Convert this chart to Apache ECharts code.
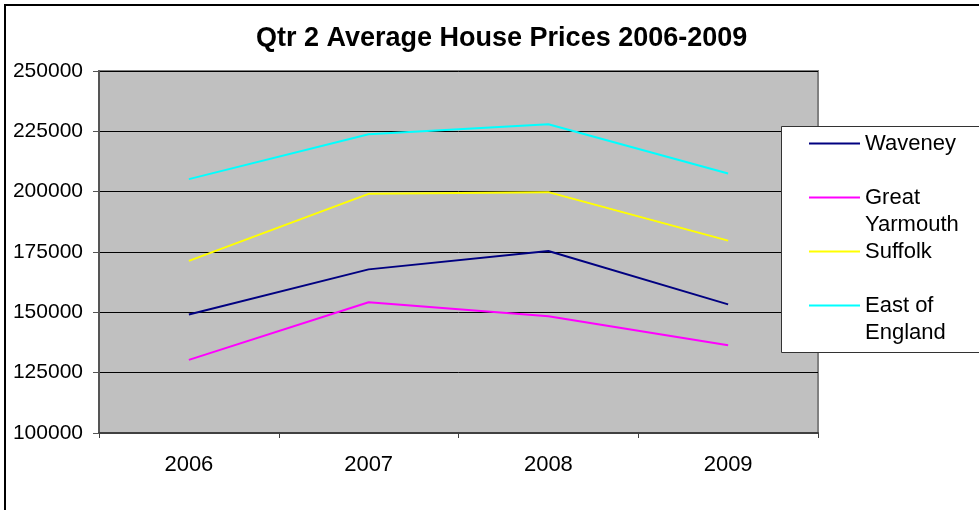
<!DOCTYPE html>
<html>
<head>
<meta charset="utf-8">
<script src="https://cdn.jsdelivr.net/npm/echarts@6/dist/echarts.min.js"></script>
<style>
  html, body { margin: 0; padding: 0; background: #fff; }
  #chart { width: 979px; height: 510px; }
</style>
</head>
<body>
<div id="chart"></div>
<script>
// data
const years = ['2006', '2007', '2008', '2009']
const waveney = [149100, 167800, 175400, 153300]
const greatYarmouth = [130300, 154200, 148400, 136400]
const suffolk = [171300, 199100, 199800, 179700]
const eastOfEngland = [205200, 223800, 227900, 207500]
const yTicks = [100000, 125000, 150000, 175000, 200000, 225000, 250000]

const seriesNames = ['Waveney', 'Great Yarmouth', 'Suffolk', 'East of England']
// legend labels wrap like the original; a leading blank line keeps the swatch on the first line
const legendLabels = {
  'Waveney': '\nWaveney\n',
  'Great Yarmouth': '\nGreat\nYarmouth',
  'Suffolk': '\nSuffolk\n',
  'East of England': '\nEast of\nEngland'
}
const colors = ['#000080', '#ff00ff', '#ffff00', '#00ffff']

const font = 'Liberation Sans, Arial, sans-serif'
const chart = echarts.init(document.getElementById('chart'))

const makeLine = (name, data, color) => ({
  name: name,
  type: 'line',
  data: data,
  symbol: 'none',
  color: color,
  lineStyle: { color: color, width: 2 },
  emphasis: { disabled: true },
  z: 3
})

chart.setOption({
  animation: false,
  textStyle: { fontFamily: font },
  title: {
    text: 'Qtr 2 Average House Prices 2006-2009',
    left: 256,
    top: 25,
    padding: 0,
    textStyle: { fontSize: 27, fontWeight: 'bold', color: '#000', fontFamily: font }
  },
  graphic: [
    {
      type: 'rect',
      shape: { x: 5, y: 5, width: 1000, height: 600 },
      style: { fill: 'none', stroke: '#000', lineWidth: 2 },
      silent: true,
      z: 0
    },
    {
      type: 'rect',
      shape: { x: 781.5, y: 126.5, width: 220, height: 226 },
      style: { fill: '#fff', stroke: '#333', lineWidth: 1 },
      silent: true,
      z: 10
    }
  ],
  legend: {
    data: seriesNames,
    orient: 'vertical',
    left: 809,
    top: 103,
    padding: 0,
    itemGap: -27,
    icon: 'rect',
    itemWidth: 51,
    itemHeight: 2,
    z: 11,
    selectedMode: false,
    formatter: name => legendLabels[name],
    textStyle: { fontSize: 22, lineHeight: 27, color: '#000', fontFamily: font }
  },
  grid: {
    left: 99,
    right: 161,
    top: 71,
    bottom: 77,
    show: true,
    backgroundColor: '#c0c0c0',
    borderColor: '#808080',
    borderWidth: 2
  },
  xAxis: {
    type: 'category',
    data: years,
    boundaryGap: true,
    axisLine: { show: true, lineStyle: { color: '#404040', width: 2 } },
    axisTick: { show: true, length: 5, lineStyle: { color: '#404040' } },
    axisLabel: { fontSize: 22, color: '#000', margin: 21, fontFamily: font },
    splitLine: { show: false }
  },
  yAxis: {
    type: 'value',
    min: yTicks[0],
    max: yTicks[yTicks.length - 1],
    interval: yTicks[1] - yTicks[0],
    axisLine: { show: true, lineStyle: { color: '#555', width: 2 } },
    axisTick: { show: true, length: 6, lineStyle: { color: '#555' } },
    axisLabel: { fontSize: 21, color: '#000', margin: 16, fontFamily: font, formatter: v => String(v) },
    splitLine: { show: true, lineStyle: { color: '#000', width: 1 } }
  },
  series: [
    makeLine(seriesNames[0], waveney, colors[0]),
    makeLine(seriesNames[1], greatYarmouth, colors[1]),
    makeLine(seriesNames[2], suffolk, colors[2]),
    makeLine(seriesNames[3], eastOfEngland, colors[3])
  ]
})
</script>
</body>
</html>
